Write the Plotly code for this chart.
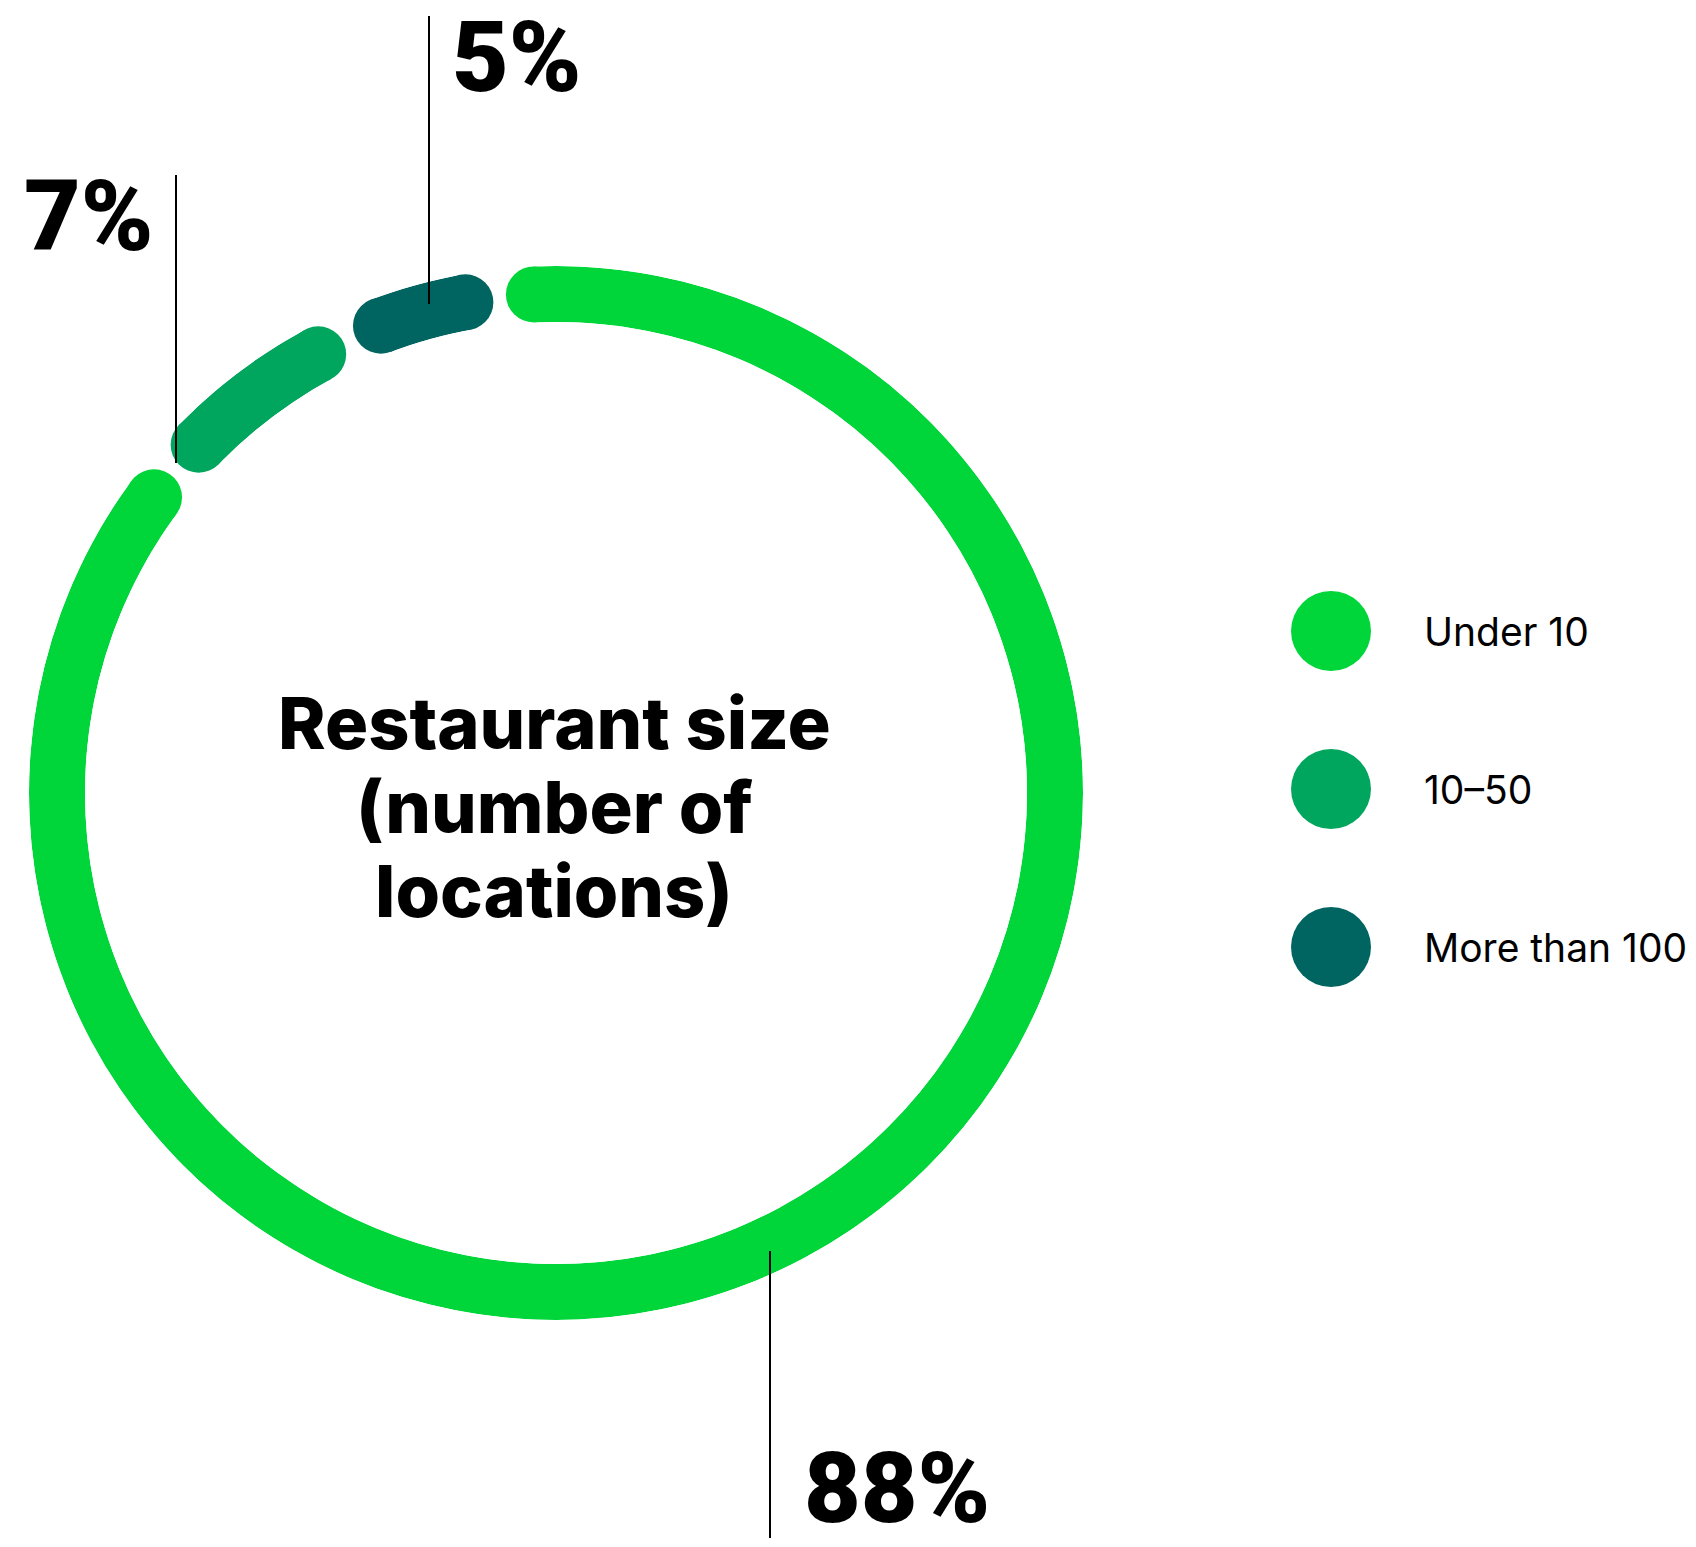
import numpy as np
import plotly.graph_objects as go

# ---- data ----
categories = ["Under 10", "10–50", "More than 100"]
shares = [88, 7, 5]
share_labels = ["88%", "7%", "5%"]
colors = ["#00D639", "#00A65E", "#006461"]
title_lines = ["Restaurant size", "(number of", "locations)"]

# ---- canvas / ring geometry (pixels) ----
W, H = 1696, 1547
CX, CY = 556, 793
R_OUT, R_IN = 527, 471
THICK = R_OUT - R_IN
R_MID = (R_OUT + R_IN) / 2

START = -6.5    # where the first segment begins, degrees clockwise from 12 o'clock
GAP = 1.5       # visible gap between neighbouring segments, degrees
CAP = np.degrees((THICK / 2) / R_MID)  # angular radius of a rounded end cap

fig = go.Figure()

# ring segments: an arc (barpolar) plus two round caps (scatterpolar markers)
total = sum(shares)
a = START
for cat, val, col in zip(categories, shares, colors):
    span = val / total * 360.0
    a0 = a + GAP / 2 + CAP
    a1 = a + span - GAP / 2 - CAP
    fig.add_trace(go.Barpolar(
        r=[1], base=[0], theta=[(a0 + a1) / 2], width=[a1 - a0],
        marker=dict(color=col, line=dict(width=0)),
        hoverinfo="skip", showlegend=False,
    ))
    fig.add_trace(go.Scatterpolar(
        r=[0.5, 0.5], theta=[a0, a1], mode="markers",
        marker=dict(size=THICK, color=col, line=dict(width=0)),
        hoverinfo="skip", showlegend=False,
    ))
    a += span

# legend: big dots with labels
leg_x = 1331
leg_y = [631, 789, 947]
fig.add_trace(go.Scatter(
    x=[leg_x] * len(categories), y=leg_y, mode="markers",
    marker=dict(size=80, color=colors, line=dict(width=0)),
    hoverinfo="skip", showlegend=False, xaxis="x", yaxis="y",
))

annotations = []
for cat, y in zip(categories, leg_y):
    annotations.append(dict(
        x=1422, y=y, xref="x", yref="y", text=cat, showarrow=False,
        xanchor="left", yanchor="middle",
        font=dict(family="Inter, Noto Sans, sans-serif", size=39, color="#000000"),
    ))

# percentage labels with vertical leader lines
label_pos = {
    "88%": dict(x=802, y=1488, line=(770, 1251, 1538)),
    "7%": dict(x=22, y=216, line=(176, 175, 463)),
    "5%": dict(x=450, y=57, line=(429, 16, 304)),
}
shapes = []
for lab in share_labels:
    p = label_pos[lab]
    annotations.append(dict(
        x=p["x"], y=p["y"], xref="x", yref="y", text=lab, showarrow=False,
        xanchor="left", yanchor="middle",
        font=dict(family="Roboto, Inter, sans-serif", size=98, color="#000000", weight=900),
    ))
    lx, ly0, ly1 = p["line"]
    shapes.append(dict(
        type="line", xref="x", yref="y", x0=lx, x1=lx, y0=ly0, y1=ly1,
        line=dict(color="#000000", width=2), layer="above",
    ))

# centre title, one annotation per line for tighter leading
for txt, y in zip(title_lines, [722, 806, 890]):
    annotations.append(dict(
        x=554, y=y, xref="x", yref="y", text=txt, showarrow=False,
        xanchor="center", yanchor="middle", align="center",
        font=dict(family="Inter, Noto Sans, sans-serif", size=72, color="#000000", weight=800),
    ))

fig.update_layout(
    width=W, height=H,
    margin=dict(l=0, r=0, t=0, b=0),
    paper_bgcolor="#FFFFFF", plot_bgcolor="rgba(0,0,0,0)",
    showlegend=False,
    polar=dict(
        domain=dict(x=[(CX - R_OUT) / W, (CX + R_OUT) / W],
                    y=[1 - (CY + R_OUT) / H, 1 - (CY - R_OUT) / H]),
        hole=R_IN / R_OUT,
        bgcolor="rgba(0,0,0,0)",
        radialaxis=dict(range=[0, 1], visible=False),
        angularaxis=dict(rotation=90, direction="clockwise", visible=False),
        barmode="overlay",
    ),
    xaxis=dict(range=[0, W], visible=False, fixedrange=True, domain=[0, 1]),
    yaxis=dict(range=[H, 0], visible=False, fixedrange=True, domain=[0, 1]),
    annotations=annotations,
    shapes=shapes,
)

fig.write_html("out.html")
